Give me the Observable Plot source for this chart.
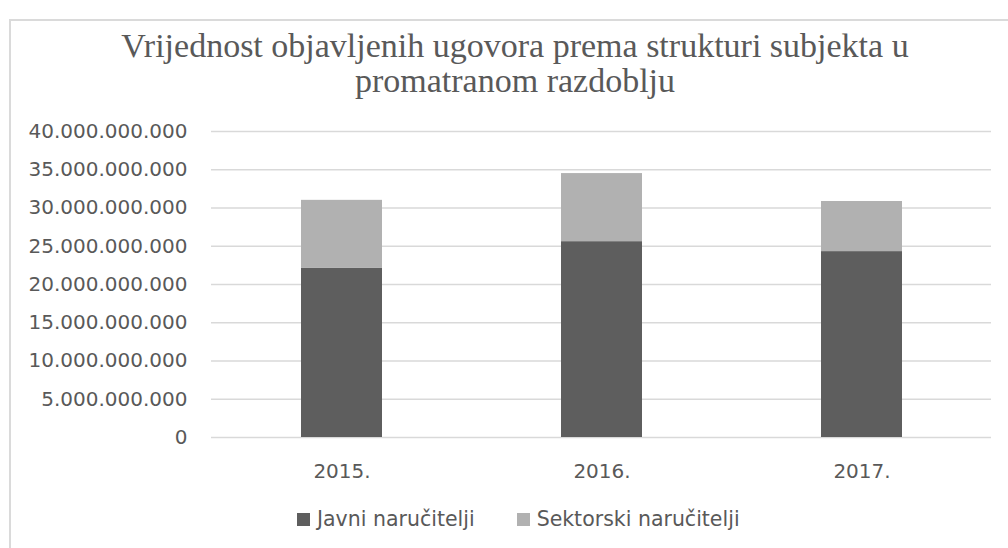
<!DOCTYPE html>
<html><head><meta charset="utf-8">
<script src="https://cdn.jsdelivr.net/npm/d3@7"></script>
<script src="https://cdn.jsdelivr.net/npm/@observablehq/plot@0.6"></script>
<style>
body{margin:0;background:#fff;}
#wrap{position:relative;width:1008px;height:548px;overflow:hidden;background:#fff}
#frame{position:absolute;left:9px;top:19px;width:1100px;height:700px;border:2px solid #dadada;}
#title{position:absolute;left:10px;width:1010px;top:28px;text-align:center;font-family:"Liberation Serif",serif;font-size:34px;line-height:35px;color:#595959}
#chart{position:absolute;left:0;top:110px}
#legend{position:absolute;top:507px;left:297px;display:flex;align-items:center;gap:42px;font-family:"DejaVu Sans",sans-serif;font-size:20.5px;color:#595959}
#legend .item{display:flex;align-items:center}
#legend .sw{width:13px;height:13px;margin-right:7px}
</style></head>
<body>
<div id="wrap">
  <div id="frame"></div>
  <div id="title">Vrijednost objavljenih ugovora prema strukturi subjekta u<br>promatranom razdoblju</div>
  <div id="chart"></div>
  <div id="legend"></div>
</div>
<script>
const years = ["2015.", "2016.", "2017."];
const seriesNames = ["Javni naručitelji", "Sektorski naručitelji"];
const javni = [22.1e9, 25.6e9, 24.3e9];
const sektorski = [8.9e9, 8.9e9, 6.55e9];
const yTicks = [0, 5e9, 10e9, 15e9, 20e9, 25e9, 30e9, 35e9, 40e9];
const colors = ["#5e5e5e", "#b1b1b1"];

const rows = [];
years.forEach((yr, i) => {
  rows.push({year: yr, series: seriesNames[0], value: javni[i]});
  rows.push({year: yr, series: seriesNames[1], value: sektorski[i]});
});
const fmt = d => d3.format(",")(d).replace(/,/g, ".");

const chart = Plot.plot({
  width: 1008,
  height: 380,
  marginLeft: 211,
  marginRight: 17,
  marginTop: 21,
  marginBottom: 53,
  style: {fontFamily: "DejaVu Sans, sans-serif", fontSize: "20px", color: "#595959", background: "transparent"},
  x: {domain: years, paddingInner: 0.69, paddingOuter: 0.345, label: null},
  y: {domain: [0, 40e9], label: null},
  color: {domain: seriesNames, range: colors},
  marks: [
    Plot.ruleY(yTicks, {stroke: "#d9d9d9", strokeWidth: 1.6}),
    Plot.barY(rows, {x: "year", y: "value", fill: "series", order: seriesNames}),
    Plot.axisY(yTicks, {tickSize: 0, tickPadding: 24, tickFormat: fmt, label: null}),
    Plot.axisX({tickSize: 0, tickPadding: 26, label: null})
  ]
});
document.getElementById("chart").appendChild(chart);

const leg = document.getElementById("legend");
seriesNames.forEach((s, i) => {
  const it = document.createElement("div");
  it.className = "item";
  const sw = document.createElement("span");
  sw.className = "sw";
  sw.style.background = colors[i];
  const t = document.createElement("span");
  t.textContent = s;
  it.appendChild(sw); it.appendChild(t);
  leg.appendChild(it);
});
</script>
</body></html>
